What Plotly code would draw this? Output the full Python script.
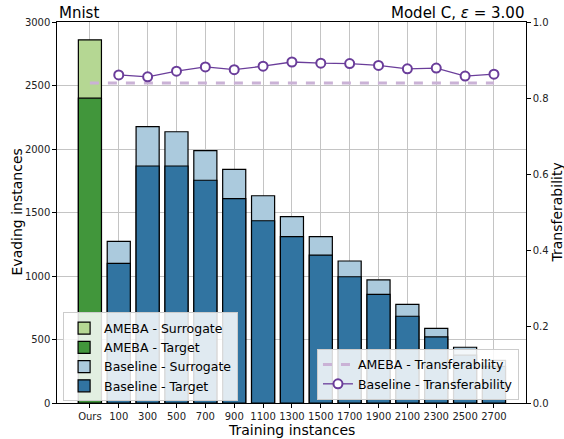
import plotly.graph_objects as go

categories = ["Ours", "100", "300", "500", "700", "900", "1100", "1300", "1500",
              "1700", "1900", "2100", "2300", "2500", "2700"]
ameba_surrogate = [2860]
ameba_target = [2400]
baseline_surrogate = [1273, 2176, 2136, 1987, 1840, 1632, 1467, 1310, 1118, 969, 777, 588, 439, 335]
baseline_target = [1100, 1866, 1866, 1754, 1609, 1435, 1310, 1165, 994, 856, 683, 520, 377, 289]
baseline_transfer = [0.861, 0.856, 0.871, 0.882, 0.875, 0.884, 0.895, 0.892, 0.891, 0.886,
                     0.877, 0.879, 0.858, 0.863]
ameba_transfer = 0.840

xpos = list(range(len(categories)))
x_ours = xpos[:1]
x_base = xpos[1:]

FONT = "DejaVu Sans"
fig = go.Figure()
bar_line = dict(color="black", width=1.2)
fig.add_trace(go.Bar(x=x_ours, y=ameba_surrogate, width=0.8, name="AMEBA - Surrogate",
                     marker=dict(color="#b5d793", line=bar_line), legend="legend"))
fig.add_trace(go.Bar(x=x_ours, y=ameba_target, width=0.8, name="AMEBA - Target",
                     marker=dict(color="#41963b", line=bar_line), legend="legend"))
fig.add_trace(go.Bar(x=x_base, y=baseline_surrogate, width=0.8, name="Baseline - Surrogate",
                     marker=dict(color="#abcadd", line=bar_line), legend="legend"))
fig.add_trace(go.Bar(x=x_base, y=baseline_target, width=0.8, name="Baseline - Target",
                     marker=dict(color="#3174a1", line=bar_line), legend="legend"))

fig.add_trace(go.Scatter(x=[xpos[0], xpos[-1]], y=[ameba_transfer, ameba_transfer],
                         mode="lines", name="AMEBA - Transferability", yaxis="y2",
                         line=dict(color="#cab2d6", width=3, dash="dash"), legend="legend2"))
fig.add_trace(go.Scatter(x=x_base, y=baseline_transfer, mode="lines+markers",
                         name="Baseline - Transferability", yaxis="y2",
                         line=dict(color="#6a3d9a", width=1.3),
                         marker=dict(symbol="circle", size=9, color="white",
                                     line=dict(color="#6a3d9a", width=2)),
                         legend="legend2"))

axis_common = dict(showline=True, linecolor="black", linewidth=1.3, ticks="outside",
                   ticklen=3.5, tickcolor="black", tickfont=dict(size=10, family=FONT, color="#222"),
                   zeroline=False, automargin=False)

title_font = dict(size=14, family=FONT, color="black")

fig.update_layout(
    width=564, height=439,
    margin=dict(l=57, r=38, t=22, b=36, autoexpand=False),
    paper_bgcolor="white", plot_bgcolor="white",
    barmode="overlay",
    font=dict(family=FONT, color="black"),
    xaxis=dict(range=[-1.14, 15.11], tickmode="array", tickvals=xpos, ticktext=categories,
               showgrid=True, gridcolor="#c4c4c4", gridwidth=1, mirror=True,
               **axis_common),
    yaxis=dict(range=[0, 3000], tickmode="array", tickvals=[0, 500, 1000, 1500, 2000, 2500, 3000],
               showgrid=True, gridcolor="#c4c4c4", gridwidth=1,
               **axis_common),
    yaxis2=dict(range=[0, 1], overlaying="y", side="right", tickmode="array",
                tickvals=[0, 0.2, 0.4, 0.6, 0.8, 1.0], tickformat=".1f", showgrid=False,
                **axis_common),
    legend=dict(x=0.013, y=0.004, xanchor="left", yanchor="bottom", traceorder="normal",
                bgcolor="rgba(255,255,255,0.85)", bordercolor="#cccccc", borderwidth=1,
                font=dict(size=12.5, family=FONT), tracegroupgap=0),
    legend2=dict(x=0.985, y=0.008, xanchor="right", yanchor="bottom", traceorder="normal",
                 bgcolor="rgba(255,255,255,0.85)", bordercolor="#cccccc", borderwidth=1,
                 font=dict(size=12.5, family=FONT)),
    showlegend=True,
    annotations=[
        dict(text="Mnist", xref="paper", yref="paper", x=0, y=1, xanchor="left", yanchor="bottom",
             showarrow=False, font=dict(size=15, family=FONT), yshift=-2),
        dict(text="Model C, <i>ε</i> = 3.00", xref="paper", yref="paper", x=1, y=1,
             xanchor="right", yanchor="bottom", showarrow=False,
             font=dict(size=15, family=FONT), yshift=-2),
        dict(text="Training instances", xref="paper", yref="paper", x=0.5, y=0,
             xanchor="center", yanchor="top", yshift=-18, showarrow=False, font=title_font,
             borderpad=0),
        dict(text="Evading instances", xref="paper", yref="paper", x=0, y=0.5,
             xanchor="center", yanchor="middle", xshift=-41, textangle=-90,
             showarrow=False, font=title_font),
        dict(text="Transferability", xref="paper", yref="paper", x=1, y=0.5,
             xanchor="center", yanchor="middle", xshift=30, textangle=-90,
             showarrow=False, font=title_font),
    ],
)

fig.write_html("out.html")
